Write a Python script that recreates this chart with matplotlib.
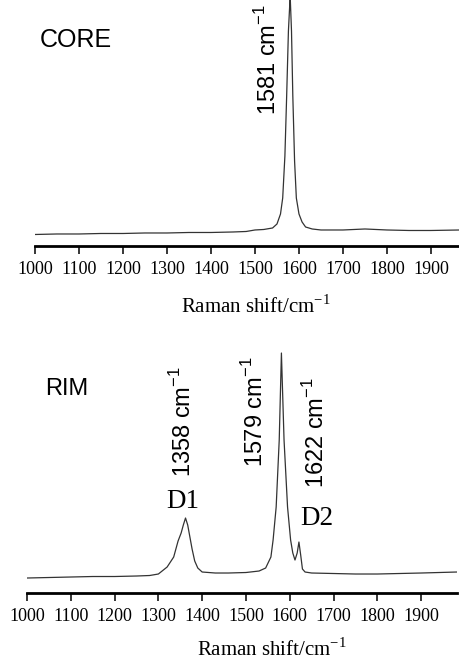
import matplotlib
matplotlib.use("Agg")
import matplotlib.pyplot as plt

plt.rcParams['font.family'] = ['Liberation Serif', 'DejaVu Serif']
plt.rcParams['mathtext.fontset'] = 'custom'
plt.rcParams['mathtext.rm'] = 'Liberation Serif'
plt.rcParams['mathtext.sf'] = 'Liberation Sans'

# CORE spectrum (arbitrary intensity)
core_shift = [1000, 1050, 1100, 1150, 1200, 1250, 1300, 1350, 1400, 1450, 1480,
              1500, 1520, 1540, 1550, 1558, 1563, 1568, 1572, 1576, 1580, 1583,
              1586, 1590, 1594, 1600, 1607, 1615, 1630, 1650, 1700, 1750, 1800,
              1850, 1900, 1966]
core_int = [11.5, 12, 12, 12.5, 12.5, 13, 13, 13.5, 13.5, 14, 14.5,
            16, 16.5, 18, 22, 32, 48, 90, 150, 215, 250, 215,
            150, 85, 48, 32, 24, 19, 17, 16, 16, 17, 16,
            15.5, 15.5, 16]

# RIM spectrum
rim_shift = [1000, 1050, 1100, 1150, 1200, 1250, 1280, 1300, 1320, 1335, 1345,
             1352, 1357, 1362, 1367, 1372, 1377, 1383, 1390, 1400, 1430, 1460,
             1500, 1530, 1545, 1557, 1562, 1569, 1576, 1581, 1587, 1595, 1602,
             1607, 1612, 1617, 1621, 1625, 1629, 1635, 1650, 1700, 1750, 1800,
             1850, 1900, 1982]
rim_int = [15, 15.5, 16, 16.5, 16.5, 17, 17.5, 19, 26, 36, 52,
           60, 68, 75, 68, 56, 44, 32, 25, 21, 20, 20,
           20.5, 22, 25, 36, 53, 86, 153, 240, 153, 86, 53,
           40, 33, 40, 51, 38, 24, 21, 20, 19.5, 19, 19,
           19.5, 20, 21]

ticks = [1000, 1100, 1200, 1300, 1400, 1500, 1600, 1700, 1800, 1900]
sans = ['Liberation Sans', 'DejaVu Sans']

fig = plt.figure(figsize=(4.6, 6.6), dpi=100)
ax1 = fig.add_axes([0.0761, 0.6273, 0.9239, 0.3727])
ax2 = fig.add_axes([0.0587, 0.1015, 0.9348, 0.3833])


def style(ax, xmax, ymax, labelx, labely):
    ax.set_xlim(1000, xmax)
    ax.set_ylim(0, ymax)
    for s in ['left', 'top', 'right']:
        ax.spines[s].set_visible(False)
    ax.spines['bottom'].set_linewidth(2.0)
    ax.set_yticks([])
    ax.set_xticks(ticks)
    ax.tick_params(axis='x', direction='out', length=5.5, width=1.1,
                   labelsize=13, pad=5)
    ax.set_xlabel(r'Raman shift/cm$^{\mathrm{-1}}$', fontsize=15)
    ax.xaxis.set_label_coords(labelx, labely)
    ax.patch.set_alpha(0)


ax1.plot(core_shift, core_int, color='#333333', lw=0.9)
style(ax1, 1966, 246, 0.52, -0.2)
ax1.text(1011, 199, 'CORE', fontsize=18, family=sans, ha='left', va='baseline')
ax1.text(1530, 131, r'1581 cm$^{\mathsf{-1}}$', fontsize=17, family=sans,
         rotation=90, ha='center', va='bottom')

ax2.plot(rim_shift, rim_int, color='#333333', lw=0.9)
style(ax2, 1982, 253, 0.57, -0.18)
ax2.text(1041, 198, 'RIM', fontsize=17, family=sans, ha='left', va='baseline')
ax2.text(1356, 116, r'1358 cm$^{\mathsf{-1}}$', fontsize=17, family=sans,
         rotation=90, ha='center', va='bottom')
ax2.text(1521, 126, r'1579 cm$^{\mathsf{-1}}$', fontsize=17, family=sans,
         rotation=90, ha='center', va='bottom')
ax2.text(1660, 105, r'1622 cm$^{\mathsf{-1}}$', fontsize=17, family=sans,
         rotation=90, ha='center', va='bottom')
ax2.text(1356, 92, 'D1', fontsize=19.5, ha='center', va='center')
ax2.text(1662, 75, 'D2', fontsize=19.5, ha='center', va='center')

fig.savefig('out.png', dpi=100)
